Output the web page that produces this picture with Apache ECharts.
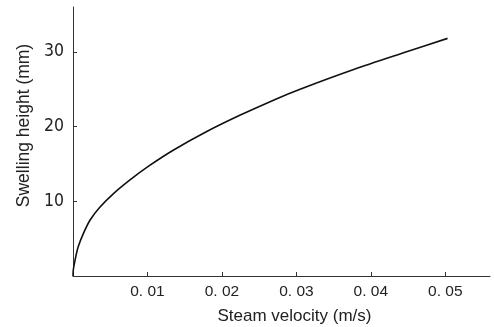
<!DOCTYPE html>
<html><head><meta charset="utf-8">
<script src="https://cdn.jsdelivr.net/npm/echarts@6/dist/echarts.min.js"></script>
<style>html,body{margin:0;padding:0;background:#fff}#c{width:494px;height:327px}</style>
</head><body><div id="c"></div>
<script>
const velocity = [0, 0.00004, 0.00027, 0.0007, 0.0014, 0.0023, 0.0036, 0.0054, 0.0077, 0.0103, 0.0134, 0.0179, 0.0224, 0.0273, 0.0305, 0.0376, 0.0448, 0.0503];
const height = [0, 0.8, 2.1, 3.9, 5.7, 7.5, 9.2, 11.0, 12.9, 14.8, 16.8, 19.3, 21.5, 23.7, 25.0, 27.6, 30.0, 31.8];
const xTicks = [0.01, 0.02, 0.03, 0.04, 0.05];
const yTicks = [10, 20, 30];
const xTitle = 'Steam velocity (m/s)';
const yTitle = 'Swelling height (mm)';

const chart = echarts.init(document.getElementById('c'), null, {renderer: 'canvas'});
const font = 'Liberation Sans, Arial, sans-serif';
const narrow = '"Liberation Sans Narrow", "DejaVu Sans Condensed", "Liberation Sans", sans-serif';
chart.setOption({
  animation: false,
  grid: {left: 73, right: 4, top: 7, bottom: 51},
  xAxis: {
    type: 'value', min: 0, max: 0.056,
    axisLine: {lineStyle: {color: '#333', width: 1}},
    axisTick: {inside: true, length: 4, customValues: xTicks, lineStyle: {color: '#333'}},
    axisLabel: {customValues: xTicks, color: '#222', fontSize: 15.5, fontFamily: font, margin: 8,
      formatter: v => v.toFixed(2).replace('.', '. ')},
    splitLine: {show: false}
  },
  yAxis: {
    type: 'value', min: 0, max: 36,
    axisLine: {show: true, lineStyle: {color: '#333', width: 1}},
    axisTick: {show: true, inside: true, length: 4, customValues: yTicks, lineStyle: {color: '#333'}},
    axisLabel: {customValues: yTicks, color: '#222', fontSize: 17.5, fontFamily: narrow, margin: 9},
    splitLine: {show: false}
  },
  graphic: [
    {type: 'text', x: 294.5, y: 316, style: {text: xTitle, fontSize: 17, fontFamily: font, fill: '#222', textAlign: 'center', textVerticalAlign: 'middle'}},
    {type: 'text', x: 24, y: 125.5, rotation: Math.PI / 2, style: {text: yTitle, fontSize: 17.5, fontFamily: font, fill: '#222', textAlign: 'center', textVerticalAlign: 'middle'}}
  ],
  series: [{
    type: 'line', data: velocity.map((v, i) => [v, height[i]]),
    smooth: 0.3, showSymbol: false, lineStyle: {color: '#111', width: 1.6}
  }]
});
</script></body></html>
